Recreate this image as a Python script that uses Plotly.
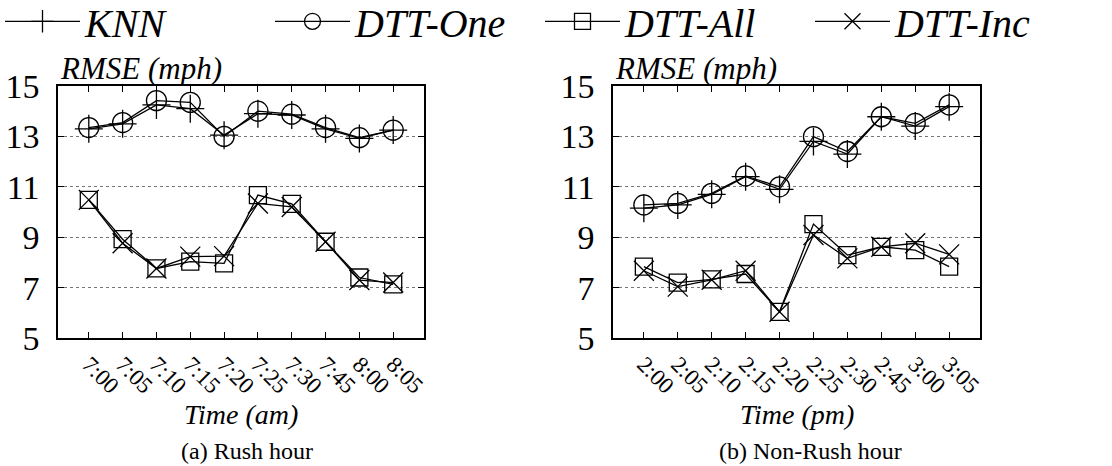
import plotly.graph_objects as go

# ---------------- data ----------------
rush_times = ["7:00", "7:05", "7:10", "7:15", "7:20", "7:25", "7:30", "7:45", "8:00", "8:05"]
rush_knn = [13.3, 13.5, 14.25, 14.1, 13.05, 13.9, 13.85, 13.3, 12.92, 13.25]
rush_one = [13.35, 13.55, 14.42, 14.35, 13.0, 14.0, 13.88, 13.35, 12.95, 13.25]
rush_all = [10.48, 8.92, 7.76, 8.03, 7.96, 10.67, 10.32, 8.82, 7.4, 7.13]
rush_inc = [10.48, 8.76, 7.76, 8.23, 8.25, 10.34, 10.2, 8.82, 7.3, 7.2]

non_times = ["2:00", "2:05", "2:10", "2:15", "2:20", "2:25", "2:30", "2:45", "3:00", "3:05"]
non_knn = [10.15, 10.28, 10.7, 11.4, 10.9, 12.8, 12.3, 13.78, 13.41, 14.18]
non_one = [10.28, 10.34, 10.74, 11.43, 11.0, 12.99, 12.4, 13.78, 13.52, 14.25]
non_all = [7.83, 7.2, 7.33, 7.54, 6.04, 9.52, 8.29, 8.62, 8.49, 7.83]
non_inc = [7.67, 7.04, 7.31, 7.67, 6.04, 9.09, 8.16, 8.62, 8.76, 8.32]

y_ticks = [5, 7, 9, 11, 13, 15]

series_names = ["KNN", "DTT-One", "DTT-All", "DTT-Inc"]
series_symbols = ["cross-thin-open", "circle-open", "square-open", "x-thin-open"]
series_sizes = [20, 20, 17, 20]

FONT = "Liberation Serif, Times New Roman, serif"
W, H = 1112, 466


def fx(px):
    return px / W


def fy(py):
    return 1 - py / H


fig = go.Figure()

panels = [
    (rush_times, [rush_knn, rush_one, rush_all, rush_inc], "x", "y"),
    (non_times, [non_knn, non_one, non_all, non_inc], "x2", "y2"),
]

for pi, (cats, vals, xa, ya) in enumerate(panels):
    for si, v in enumerate(vals):
        fig.add_trace(go.Scatter(
            x=cats, y=v, xaxis=xa, yaxis=ya,
            mode="lines+markers",
            name=series_names[si],
            legendgroup=series_names[si],
            showlegend=(pi == 0),
            line=dict(color="black", width=1.3),
            marker=dict(symbol=series_symbols[si], size=series_sizes[si],
                        color="black", line=dict(color="black", width=1.3)),
        ))

axis_common = dict(
    showline=True, linecolor="black", linewidth=1.5, mirror="ticks",
    ticks="inside", ticklen=6, tickcolor="black", tickwidth=1,
    zeroline=False,
)

xcommon = dict(axis_common, type="category", tickangle=45, showgrid=False,
               tickfont=dict(family=FONT, size=23, color="black"),
               ticklabelstandoff=2, automargin=False)
ycommon = dict(axis_common, range=[5, 15], tickvals=y_ticks,
               showgrid=True, gridcolor="#777", griddash="dot", gridwidth=1,
               tickfont=dict(family=FONT, size=34, color="black"),
               ticklabelstandoff=10, automargin=False)

fig.update_layout(
    width=W, height=H,
    template="none",
    margin=dict(l=0, r=0, t=0, b=0, autoexpand=False),
    paper_bgcolor="white", plot_bgcolor="white",
    xaxis=dict(xcommon, domain=[fx(58), fx(424)], anchor="y"),
    yaxis=dict(ycommon, domain=[fy(338), fy(86)], anchor="x"),
    xaxis2=dict(xcommon, domain=[fx(613), fx(980)], anchor="y2"),
    yaxis2=dict(ycommon, domain=[fy(338), fy(86)], anchor="x2"),
    legend=dict(
        orientation="h", x=0.0, xanchor="left", y=1.024, yanchor="top",
        font=dict(family=FONT, size=40, color="black", style="italic"),
        bgcolor="rgba(0,0,0,0)", itemwidth=75, tracegroupgap=0,
        entrywidth=180, entrywidthmode="pixels",
    ),
)

annotations = []
for xr, xt, cap, capshift in [("x domain", "Time (am)", "(a) Rush hour", 6),
                               ("x2 domain", "Time (pm)", "(b) Non-Rush hour", 14)]:
    annotations.append(dict(
        xref=xr, yref="paper", x=0, y=fy(68), xanchor="left", yanchor="middle",
        text="RMSE (mph)", showarrow=False,
        font=dict(family=FONT, size=31, color="black", style="italic"),
    ))
    annotations.append(dict(
        xref=xr, yref="paper", x=0.5, y=fy(414), xanchor="center", yanchor="middle",
        text=xt, showarrow=False,
        font=dict(family=FONT, size=28, color="black", style="italic"),
    ))
    annotations.append(dict(
        xref=xr, yref="paper", x=0.5, y=fy(451), xanchor="center", yanchor="middle",
        text=cap, showarrow=False, xshift=capshift,
        font=dict(family=FONT, size=24, color="black"),
    ))
fig.update_layout(annotations=annotations)

fig.write_html("out.html", config={"displayModeBar": False},
               post_script="document.body.style.margin='0';")
